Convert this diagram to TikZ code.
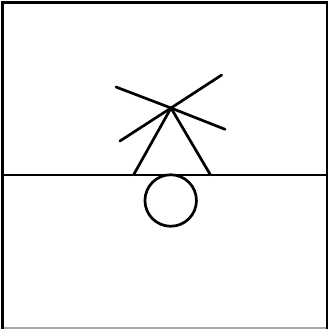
\documentclass[tikz,border=0pt]{standalone}
\tikzset{ink/.style={draw=black,line width=2.7pt,line cap=round,line join=round}}
\begin{document}
\begin{tikzpicture}[x=1pt,y=-1pt]
\useasboundingbox (0,0) rectangle (329,329);
\fill[white] (0,0) rectangle (329,329);
\coordinate (tl) at (2.5,2.5);
\coordinate (tr) at (327,2.5);
\coordinate (br) at (327,329);
\coordinate (bl) at (2.5,329);
\coordinate (ml) at (2.5,175);
\coordinate (mr) at (327,175);
\coordinate (hub) at (171,108);
\coordinate (a) at (116,87);
\coordinate (b) at (225,129.3);
\coordinate (c) at (221.7,75);
\coordinate (d) at (120,141);
\coordinate (e) at (133.5,175);
\coordinate (f) at (210.5,175);
\draw[line width=2pt,draw=black!35] (bl) ++(0,-1) -- ([yshift=1pt]br);
\draw[ink,line width=2.4pt,line cap=butt,line join=miter] (bl) -- (tl) -- (tr) -- (br);
\draw[ink,line cap=butt] (ml) -- (mr);
\draw[ink] (a) -- (hub) -- (b);
\draw[ink] (c) -- (hub) -- (d);
\draw[ink] (e) -- (hub) -- (f);
\node[ink,circle,minimum size=51.5pt,inner sep=0pt] (ball) at (170.7,200.5) {};
\end{tikzpicture}
\end{document}
